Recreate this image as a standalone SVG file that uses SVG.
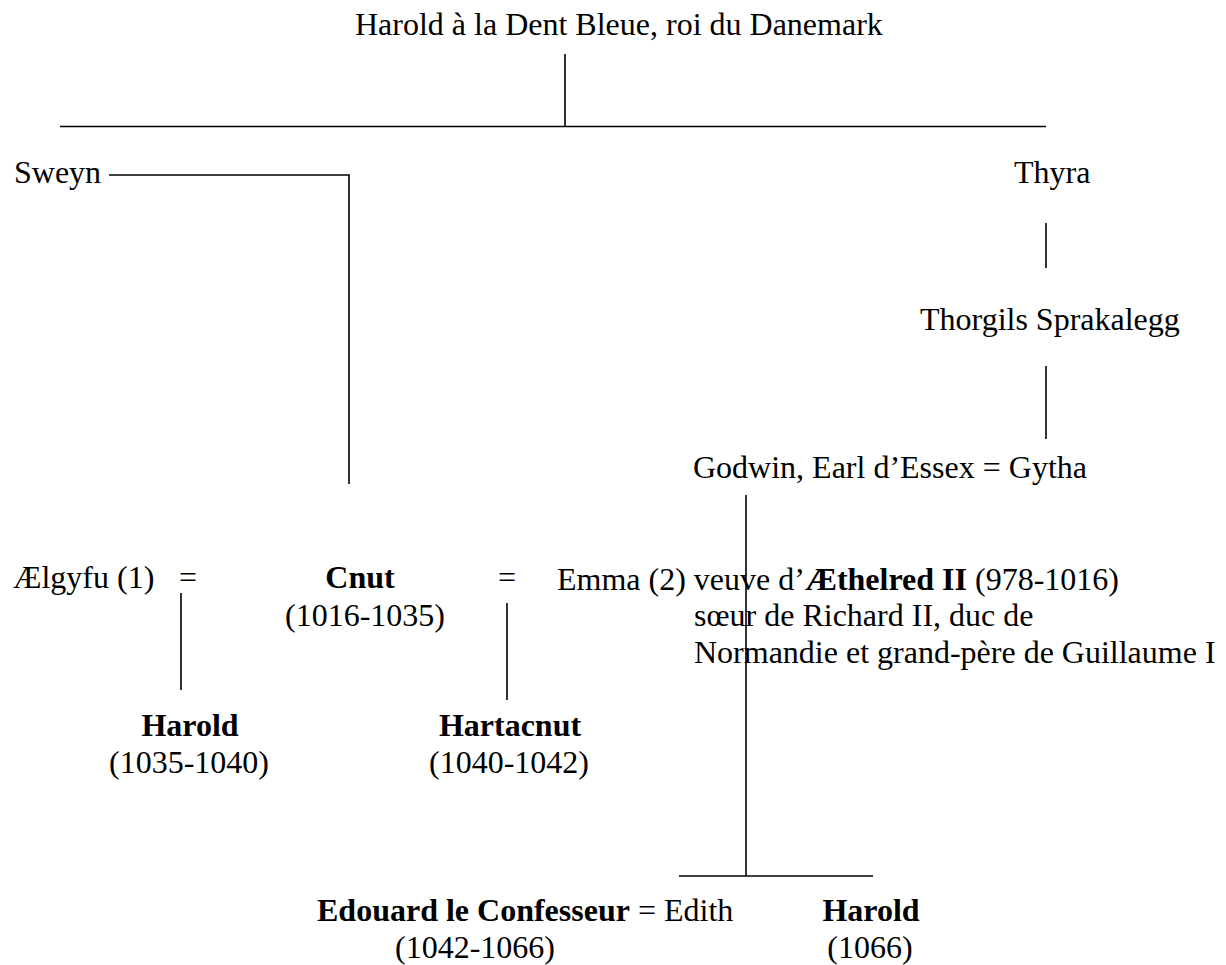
<svg xmlns="http://www.w3.org/2000/svg" width="1226" height="965" viewBox="0 0 1226 965">
<style>
text{font-family:"Liberation Serif","Times New Roman",serif;font-size:32px;fill:#000}
.b{font-weight:bold}
.m{text-anchor:middle}
.c{fill:none;stroke:#000;stroke-width:1.6}
</style>
<rect width="1226" height="965" fill="#fff"/>
<g id="connectors" class="c">
<path d="M565 54V126.5"/>
<path d="M60 126.5H1046"/>
<path d="M109 175H349V484"/>
<path d="M1046 223V268"/>
<path d="M1046 366V439"/>
<path d="M746 495V876"/>
<path d="M679 876H873"/>
<path d="M181 593V690"/>
<path d="M507 603V700"/>
</g>
<g id="harold-dent-bleue"><text x="355" y="35">Harold à la Dent Bleue, roi du Danemark</text></g>
<g id="sweyn"><text x="14" y="183">Sweyn</text></g>
<g id="thyra"><text x="1014" y="183">Thyra</text></g>
<g id="thorgils"><text x="920" y="330">Thorgils Sprakalegg</text></g>
<g id="godwin"><text x="693" y="478">Godwin, Earl d’Essex = Gytha</text></g>
<g id="aelgyfu"><text x="13" y="588">Ælgyfu (1)</text><text class="m" x="188" y="588">=</text></g>
<g id="cnut"><text class="b m" x="360" y="588">Cnut</text><text class="m" x="365" y="626">(1016-1035)</text></g>
<g id="emma"><text class="m" x="507" y="588">=</text>
<text x="557" y="590">Emma (2) veuve d’<tspan class="b">Æthelred II</tspan> (978-1016)</text>
<text x="694" y="626">sœur de Richard II, duc de</text>
<text x="694" y="663">Normandie et grand-père de Guillaume I</text></g>
<g id="harold-1035"><text class="b m" x="190" y="736">Harold</text><text class="m" x="189" y="773">(1035-1040)</text></g>
<g id="hartacnut"><text class="b m" x="510" y="736">Hartacnut</text><text class="m" x="509" y="773">(1040-1042)</text></g>
<g id="edouard"><text x="317" y="921"><tspan class="b">Edouard le Confesseur</tspan> = Edith</text><text class="m" x="475" y="958">(1042-1066)</text></g>
<g id="harold-1066"><text class="b m" x="871" y="921">Harold</text><text class="m" x="870" y="958">(1066)</text></g>
</svg>
